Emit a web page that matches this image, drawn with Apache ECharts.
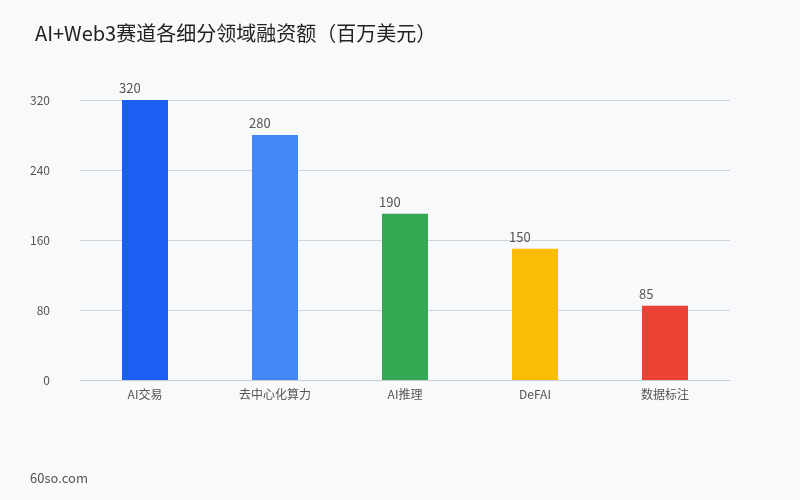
<!DOCTYPE html>
<html><head><meta charset="utf-8">
<script src="https://cdn.jsdelivr.net/npm/echarts@6/dist/echarts.min.js"></script>
<style>html,body{margin:0;background:#f8f9fb}#main{width:800px;height:500px}</style>
</head><body><div id="main"></div>
<script>
const categories = ['AI交易', '去中心化算力', 'AI推理', 'DeFAI', '数据标注']
const values = [320, 280, 190, 150, 85]
const colors = ['#1c5ff5', '#4387f5', '#34a853', '#fbbc04', '#ea4335']
const yTicks = [0, 80, 160, 240, 320]

const font = 'Noto Sans CJK SC'
var myChart = echarts.init(document.getElementById('main'))
myChart.setOption({
  backgroundColor: '#f8f9fb',
  textStyle: {fontFamily: font},
  title: {
    text: 'AI+Web3赛道各细分领域融资额（百万美元）',
    left: 30, top: 18,
    textStyle: {fontSize: 20, fontWeight: 'normal', color: '#222', fontFamily: font}
  },
  graphic: [{
    type: 'text', left: 30, top: 472,
    style: {text: '60so.com', fontSize: 13, fill: '#555', fontFamily: font}
  }],
  grid: {left: 80, right: 70, top: 100, bottom: 120},
  xAxis: {
    type: 'category',
    data: categories,
    axisTick: {show: false},
    axisLine: {lineStyle: {color: '#c8cdd8'}},
    axisLabel: {color: '#555', fontSize: 12, margin: 8}
  },
  yAxis: {
    type: 'value',
    min: yTicks[0], max: yTicks[yTicks.length - 1], interval: 80,
    axisLabel: {color: '#555', fontSize: 12, margin: 30, align: 'right'},
    splitLine: {lineStyle: {color: '#cdd3e0'}}
  },
  series: [{
    type: 'bar',
    barWidth: 46,
    data: values.map((v, i) => ({value: v, itemStyle: {color: colors[i]}})),
    label: {show: true, position: 'top', align: 'left', offset: [-26, 0], color: '#555', fontSize: 13}
  }]
})
</script></body></html>
